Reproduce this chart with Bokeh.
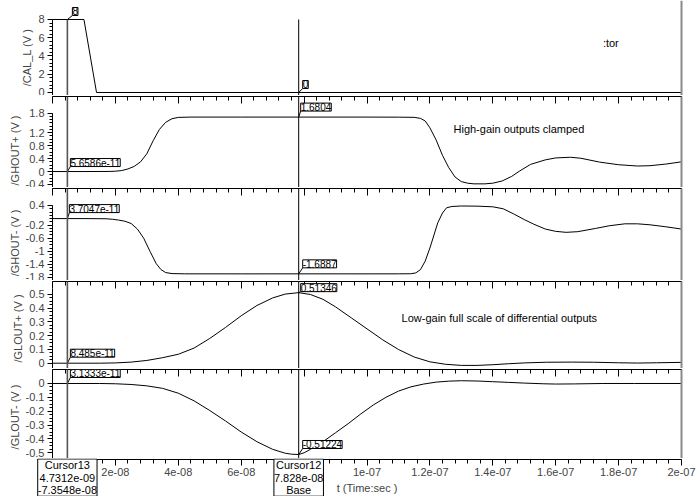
import numpy as np
from bokeh.plotting import figure
from bokeh.layouts import column
from bokeh.models import Range1d, LinearAxis, FixedTicker, CustomJSTickFormatter, Span, Label
from bokeh.embed import file_html
from bokeh.resources import INLINE

FONT = "Liberation Sans"

# ---------------- data (time in ns, values in V) ----------------
cal_t = [0, 10, 14, 200]
cal_v = [8, 8, 0, 0]

ghp_t = [0, 10, 18, 20, 22, 24, 26, 28, 30, 32, 34, 36, 38, 40, 44, 60, 78.28, 100, 110, 115, 117,
         118.5, 120, 122, 124, 126, 128, 130, 132, 134, 137.5, 140, 143, 146, 148.6, 152, 156.7,
         160, 164.7, 168, 174, 180, 186, 190, 195, 200]
ghp_v = [0, 0, 0.003, 0.01, 0.03, 0.08, 0.16, 0.30, 0.55, 0.95, 1.30, 1.52, 1.63, 1.67, 1.68, 1.68,
         1.6804, 1.68, 1.678, 1.672, 1.64, 1.56, 1.35, 0.97, 0.50, 0.12, -0.17, -0.31, -0.36, -0.38,
         -0.38, -0.36, -0.29, -0.15, 0.02, 0.22, 0.36, 0.42, 0.44, 0.41, 0.29, 0.21, 0.17, 0.18,
         0.23, 0.30]

ghm_t = [0, 10, 17, 19, 21, 23, 25, 27, 29, 31, 33, 34.5, 36, 38, 42, 60, 78.28, 100, 110, 113.9,
         115.5, 117, 118.5, 120, 121.3, 122.5, 124, 125.3, 127, 130, 135, 140, 143.3, 146.5, 150,
         153, 156.7, 160, 163.3, 167, 172.7, 177, 182, 186, 190, 195, 200]
ghm_v = [0, 0, -0.005, -0.02, -0.045, -0.08, -0.15, -0.32, -0.60, -1.00, -1.38, -1.56, -1.65,
         -1.68, -1.688, -1.689, -1.6887, -1.689, -1.688, -1.685, -1.66, -1.56, -1.30, -0.90, -0.50,
         -0.13, 0.17, 0.33, 0.37, 0.385, 0.38, 0.36, 0.30, 0.15, -0.03, -0.17, -0.32, -0.39, -0.42,
         -0.40, -0.30, -0.22, -0.16, -0.16, -0.19, -0.25, -0.32]

glp_t = [0, 15, 20, 25, 30, 35, 40, 45, 50, 55, 60, 65, 70, 74, 78.28, 82, 86, 90, 95, 100, 105,
         110, 115, 120, 125, 130, 135, 140, 145, 150, 157, 165, 172, 180, 186, 192, 200]
glp_v = [0, 0, 0.002, 0.008, 0.02, 0.04, 0.065, 0.11, 0.18, 0.26, 0.345, 0.42, 0.475, 0.503,
         0.51346, 0.50, 0.465, 0.41, 0.33, 0.25, 0.17, 0.10, 0.045, 0.01, -0.008, -0.016, -0.016,
         -0.011, -0.004, 0.002, 0.007, 0.008, 0.007, 0.003, 0.001, 0.003, 0.006]

glm_t = [0, 15, 20, 25, 30, 35, 40, 45, 50, 55, 60, 65, 70, 74, 76, 78.28, 80, 82, 86, 90, 94, 98,
         102, 106, 110, 114, 118, 122, 126, 130, 135, 140, 145, 150, 156, 160, 166, 175, 185, 200]
glm_v = [0, 0, -0.002, -0.007, -0.017, -0.035, -0.07, -0.125, -0.195, -0.27, -0.35, -0.42, -0.475,
         -0.503, -0.51, -0.51224, -0.50, -0.475, -0.42, -0.355, -0.29, -0.22, -0.155, -0.10, -0.055,
         -0.024, -0.004, 0.01, 0.017, 0.02, 0.018, 0.013, 0.008, 0.003, -0.002, -0.004, -0.003, 0.0,
         0.0, 0.0]

panel_names = ["/CAL_L (V )", "/GHOUT+ (V )", "/GHOUT- (V )", "/GLOUT+ (V )", "/GLOUT- (V )"]

cursor13_t = 4.7312
cursor13_values = [8, 5.6586e-11, 3.7047e-11, 8.485e-11, 3.1333e-11]
cursor13_labels = ["8", "5.6586e-11", "3.7047e-11", "8.485e-11", "3.1333e-11"]
cursor13_box = "Cursor13\n4.7312e-09\n-7.3548e-08"

cursor12_t = 78.28
cursor12_values = [0, 1.6804, -1.6887, 0.51346, -0.51224]
cursor12_labels = ["0", "1.6804", "-1.6887", "0.51346", "-0.51224"]
cursor12_box = "Cursor12\n7.828e-08\nBase"

x_tick_values = [0, 2e-8, 4e-8, 6e-8, 8e-8, 1e-7, 1.2e-7, 1.4e-7, 1.6e-7, 1.8e-7, 2e-7]
x_tick_labels = ["0", "2e-08", "4e-08", "6e-08", "8e-08", "1e-07", "1.2e-07", "1.4e-07",
                 "1.6e-07", "1.8e-07", "2e-07"]

y1_ticks = [0, 2, 4, 6, 8]
y1_labels = ["0", "2", "4", "6", "8"]
y2_ticks = [-0.4, 0, 0.4, 0.8, 1.2, 1.8]
y2_labels = ["-0.4", "0", "0.4", "0.8", "1.2", "1.8"]
y3_ticks = [-1.8, -1.4, -1, -0.6, -0.2, 0.4]
y3_labels = ["-1.8", "-1.4", "-1", "-0.6", "-0.2", "0.4"]
y4_ticks = [0, 0.1, 0.2, 0.3, 0.4, 0.5]
y4_labels = ["0", "0.1", "0.2", "0.3", "0.4", "0.5"]
y5_ticks = [-0.5, -0.4, -0.3, -0.2, -0.1, 0]
y5_labels = ["-0.5", "-0.4", "-0.3", "-0.2", "-0.1", "0"]

notes = [(1, 127.5, 1.32, "High-gain outputs clamped"),
         (3, 111.0, 0.33, "Low-gain full scale of differential outputs"),
         (0, 175.0, 5.44, ":tor")]

# ---------------- layout settings ----------------
W = 700
LEFT, RIGHT = 52, 19           # pixels left of t=0 and right of t=2e-7
SX = 2e-7 / (W - LEFT - RIGHT) # seconds per pixel
xr = Range1d(-LEFT * SX, 2e-7 + RIGHT * SX)   # full-width frames; axes placed inside

panels = [
    dict(t=cal_t, v=cal_v, yr=(-0.329, 10.082), ticks=y1_ticks, labels=y1_labels, minor=0.4,
         bounds=(-0.329, 8), h=95, top=0, off13=(5, 4), off12=(4, 4)),
    dict(t=ghp_t, v=ghp_v, yr=(-0.4926, 2.3154), ticks=y2_ticks, labels=y2_labels, minor=0.1,
         bounds=(-0.4926, 1.8), h=92, top=1, off13=(3, 5), off12=(2, 6)),
    dict(t=ghm_t, v=ghm_v, yr=(-1.8917, 0.9194), ticks=y3_ticks, labels=y3_labels, minor=0.1,
         bounds=(-1.8917, 0.4), h=93, top=1, off13=(2, 6), off12=(4, 6)),
    dict(t=glp_t, v=glp_v, yr=(-0.0386, 0.5946), ticks=y4_ticks, labels=y4_labels, minor=0.025,
         bounds=(-0.0386, 0.545), h=88, top=1, off13=(3, 6), off12=(2, 1)),
    dict(t=glm_t, v=glm_v, yr=(-0.5411, 0.101), ticks=y5_ticks, labels=y5_labels, minor=0.025,
         bounds=(-0.5411, 0.058), h=90, top=1, off13=(3, 6), off12=(4, 6)),
]
AXIS_H = 38   # height of the strip holding the time axis and cursor boxes

FMT_CODE = """
for (let j = 0; j < tv.length; j++) {
  if (Math.abs(tv[j] - tick) <= 1e-6 * Math.max(Math.abs(tv[j]), 1e-15)) { return tl[j]; }
}
return "";
"""

def x_ticker():
    minor = [round(k * 4e-9, 12) for k in range(0, 51)]
    return FixedTicker(ticks=x_tick_values, minor_ticks=minor)

def base_fig(h, yr, top):
    p = figure(width=W, height=h, x_range=xr, y_range=Range1d(*yr),
               output_backend="svg", toolbar_location=None,
               x_axis_location=None, y_axis_location=None,
               min_border_left=0, min_border_right=0,
               min_border_top=top, min_border_bottom=0)
    p.outline_line_color = None
    p.background_fill_color = "white"
    p.border_fill_color = "white"
    p.xgrid.visible = False
    p.ygrid.visible = False
    return p

c13 = cursor13_t * 1e-9
c12 = cursor12_t * 1e-9

figs = []
for i, cfg in enumerate(panels):
    p = base_fig(cfg["h"], cfg["yr"], cfg["top"])
    frame_h = cfg["h"] - cfg["top"]
    y0, y1 = cfg["yr"]
    sy = (y1 - y0) / frame_h

    # y axis drawn at t = 0
    lo, hi = cfg["ticks"][0], cfg["ticks"][-1]
    minor = np.round(np.arange(lo, hi + cfg["minor"] / 2, cfg["minor"]), 6).tolist()
    ya = LinearAxis(ticker=FixedTicker(ticks=cfg["ticks"], minor_ticks=minor), fixed_location=0,
                    formatter=CustomJSTickFormatter(args=dict(tv=cfg["ticks"], tl=cfg["labels"]),
                                                    code=FMT_CODE),
                    bounds=cfg["bounds"], axis_label=panel_names[i],
                    axis_label_text_font=FONT, axis_label_text_font_size="11px",
                    axis_label_text_font_style="normal", axis_label_standoff=2,
                    major_label_text_font=FONT, major_label_text_font_size="11px",
                    major_label_standoff=3,
                    major_tick_out=5, major_tick_in=0, minor_tick_out=3, minor_tick_in=0,
                    axis_line_color="black", major_tick_line_color="black",
                    minor_tick_line_color="black")
    p.add_layout(ya, "left")

    # boundary axis on top (ticks pointing into the panel)
    if i > 0:
        ta = LinearAxis(ticker=x_ticker(), formatter=CustomJSTickFormatter(code="return '';"),
                        bounds=(0, 2e-7),
                        major_label_text_font_size="0px", major_label_standoff=0,
                        major_tick_in=7, major_tick_out=0, minor_tick_in=4, minor_tick_out=0,
                        axis_line_color="black")
        p.add_layout(ta, "above")

    # right border line at t = 2e-7
    ra = LinearAxis(ticker=FixedTicker(ticks=[]), fixed_location=2e-7,
                    major_label_text_font_size="0px",
                    major_label_standoff=0, major_tick_in=0, major_tick_out=0,
                    minor_tick_in=0, minor_tick_out=0,
                    axis_line_color="#8a8a8a", axis_line_width=2)
    p.add_layout(ra, "right")

    t_sec = np.array(cfg["t"]) * 1e-9
    p.line(t_sec, cfg["v"], line_color="black", line_width=1)

    # cursors
    if i == 0:
        p.segment(x0=[c12], y0=[y0], x1=[c12], y1=[max(cal_v)], line_color="black", line_width=1)
        p.segment(x0=[c13], y0=[y0], x1=[c13], y1=[max(cal_v)], line_color="#555555",
                  line_width=1.6)
    else:
        p.add_layout(Span(location=c13, dimension="height", line_color="#555555", line_width=1.6))
        p.add_layout(Span(location=c12, dimension="height", line_color="black", line_width=1))

    for (ct, val, txt, off) in [(c13, cursor13_values[i], cursor13_labels[i], cfg["off13"]),
                                (c12, cursor12_values[i], cursor12_labels[i], cfg["off12"])]:
        dx, dy = off
        p.segment(x0=[ct], y0=[val], x1=[ct + dx * SX], y1=[val + dy * sy],
                  line_color="black", line_width=1)
        p.add_layout(Label(x=ct, y=val, x_offset=dx, y_offset=dy, text=txt,
                           text_font=FONT, text_font_size="10px", text_color="black",
                           text_baseline="bottom", text_align="left",
                           border_line_color="black", border_line_width=1,
                           background_fill_color="white"))

    for (pi, nt, nv, ntext) in notes:
        if pi == i:
            p.add_layout(Label(x=nt * 1e-9, y=nv, text=ntext, text_font=FONT,
                               text_font_size="11px", text_color="black",
                               text_baseline="middle", text_align="left"))
    figs.append(p)

# ---------------- bottom strip: time axis + cursor boxes ----------------
pb = base_fig(AXIS_H, (0, AXIS_H), 0)
top_y = AXIS_H - 0.5
ba = LinearAxis(ticker=x_ticker(), fixed_location=top_y, bounds=(0, 2e-7),
                formatter=CustomJSTickFormatter(args=dict(tv=x_tick_values, tl=x_tick_labels),
                                                code=FMT_CODE),
                axis_label="t (Time:sec )", axis_label_text_font=FONT,
                axis_label_text_font_size="11px", axis_label_text_font_style="normal",
                axis_label_standoff=2,
                major_label_text_font=FONT, major_label_text_font_size="11px",
                major_label_standoff=3,
                major_tick_out=6, major_tick_in=0, minor_tick_out=4, minor_tick_in=0,
                axis_line_color="black")
pb.add_layout(ba, "below")
for ct, txt in [(c13, cursor13_box), (c12, cursor12_box)]:
    pb.add_layout(Label(x=ct, y=top_y, text=txt, text_font=FONT, text_font_size="11px",
                        text_color="black", text_baseline="top", text_align="center",
                        text_line_height=1.05,
                        border_line_color="black", border_line_width=1,
                        background_fill_color="white"))
figs.append(pb)

layout = column(*figs, spacing=0)
open("out.html", "w").write(file_html(layout, INLINE))
